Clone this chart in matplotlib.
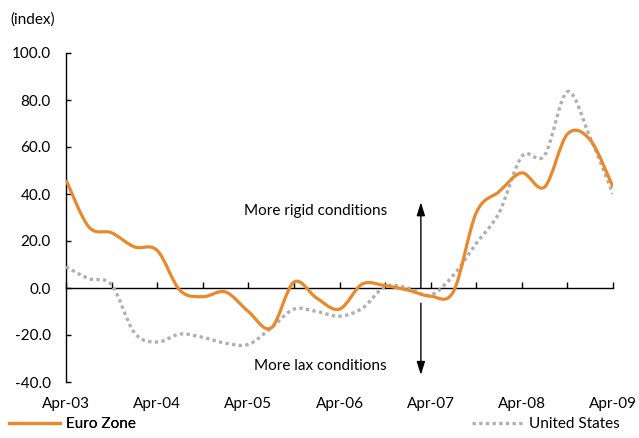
import matplotlib.pyplot as plt
import numpy as np
from matplotlib.path import Path
from matplotlib.patches import PathPatch
from matplotlib.lines import Line2D

# quarterly index values, Apr-03 .. Apr-09
quarters = np.arange(25)
euro_zone = [46, 26, 23.5, 17.5, 16, -1, -3.7, -1.7, -10, -17, 2.5, -4.3, -9,
             1.7, 1, -0.9, -3.5, -1.5, 32, 41, 49, 43, 65.5, 63, 43]
united_states = [9, 4, 1.3, -19, -23, -19.6, -21, -23.5, -24, -17, -9, -10, -12,
                 -8.6, 0.6, 0, -3, 5.5, 19, 32, 56, 56.5, 83.5, 64, 40]
year_labels = ['Apr-03', 'Apr-04', 'Apr-05', 'Apr-06', 'Apr-07', 'Apr-08', 'Apr-09']

ORANGE = '#E8892B'
GREY = '#B0B0B0'


def smooth_path(x, y):
    # bezier segments through the data points (like a spreadsheet "smoothed line")
    pts = np.column_stack([x, y]).astype(float)
    n = len(pts)
    verts = [pts[0]]
    codes = [Path.MOVETO]
    for i in range(n - 1):
        p0, p3 = pts[i], pts[i + 1]
        prev = pts[i - 1] if i > 0 else p0
        nxt = pts[i + 2] if i + 2 < n else p3
        c1 = p0 + (p3 - prev) / 6
        c2 = p3 - (nxt - p0) / 6
        verts += [c1, c2, p3]
        codes += [Path.CURVE4] * 3
    return Path(verts, codes)


def main():
    plt.rcParams['font.family'] = ['Lato', 'DejaVu Sans']
    fs = 11

    fig = plt.figure(figsize=(6.39, 4.38), dpi=100)
    ax = fig.add_axes([66 / 639, 1 - 382 / 438, (613 - 66) / 639, (382 - 53) / 438])

    ax.add_patch(PathPatch(smooth_path(quarters, united_states), fill=False,
                           edgecolor=GREY, lw=2.4, linestyle=(0, (1, 1)),
                           capstyle='butt', zorder=3))
    ax.add_patch(PathPatch(smooth_path(quarters, euro_zone), fill=False,
                           edgecolor=ORANGE, lw=2.3, zorder=4))

    ax.set_xlim(0, 24)
    ax.set_ylim(-40, 100)
    ax.set_yticks(np.arange(-40, 101, 20))
    ax.set_yticklabels([f'{v:.1f}' for v in np.arange(-40, 101, 20)])
    ax.set_xticks(np.arange(0, 25, 2))
    ax.tick_params(axis='x', direction='in', length=4.5, width=1, labelbottom=False)
    ax.tick_params(axis='y', direction='in', length=3.5, width=1, pad=11, labelsize=fs)

    for s in ['top', 'right']:
        ax.spines[s].set_visible(False)
    ax.spines['bottom'].set_position(('data', 0))
    ax.spines['left'].set_linewidth(1)
    ax.spines['bottom'].set_linewidth(1)

    sec = ax.secondary_xaxis(location=0)
    sec.set_xticks(np.arange(0, 25, 4))
    sec.set_xticklabels(year_labels)
    sec.tick_params(length=0, pad=11, labelsize=fs)
    sec.spines['bottom'].set_visible(False)

    # direction arrows
    xa = 15.57
    ax.annotate('', xy=(xa, 36.5), xytext=(xa, 0),
                arrowprops=dict(arrowstyle='-|>,head_length=0.8,head_width=0.25',
                                color='black', lw=1, shrinkA=0, shrinkB=0))
    ax.annotate('', xy=(xa, -37), xytext=(xa, -6.5),
                arrowprops=dict(arrowstyle='-|>,head_length=0.8,head_width=0.25',
                                color='black', lw=1, shrinkA=0, shrinkB=0))
    ax.text(10.95, 32.8, 'More rigid conditions', ha='center', va='center', fontsize=fs)
    ax.text(11.15, -33, 'More lax conditions', ha='center', va='center', fontsize=fs)

    fig.text(10 / 639, 1 - 20 / 438, '(index)', ha='left', va='center', fontsize=fs)

    h1 = Line2D([], [], color=ORANGE, lw=2.3)
    h2 = Line2D([], [], color=GREY, lw=2.4, linestyle=(0, (1, 1)), dash_capstyle='butt')
    leg1 = fig.legend([h1], ['Euro Zone'], loc='lower left', bbox_to_anchor=(0, -0.005),
                      frameon=False, fontsize=fs, handlelength=3.3, handletextpad=0.4,
                      borderaxespad=0.2)
    fig.add_artist(leg1)
    fig.legend([h2], ['United States'], loc='lower right', bbox_to_anchor=(0.984, -0.005),
               frameon=False, fontsize=fs, handlelength=3.3, handletextpad=0.4,
               borderaxespad=0.2)

    plt.savefig('out.png', dpi=100)


if __name__ == "__main__":
    main()
